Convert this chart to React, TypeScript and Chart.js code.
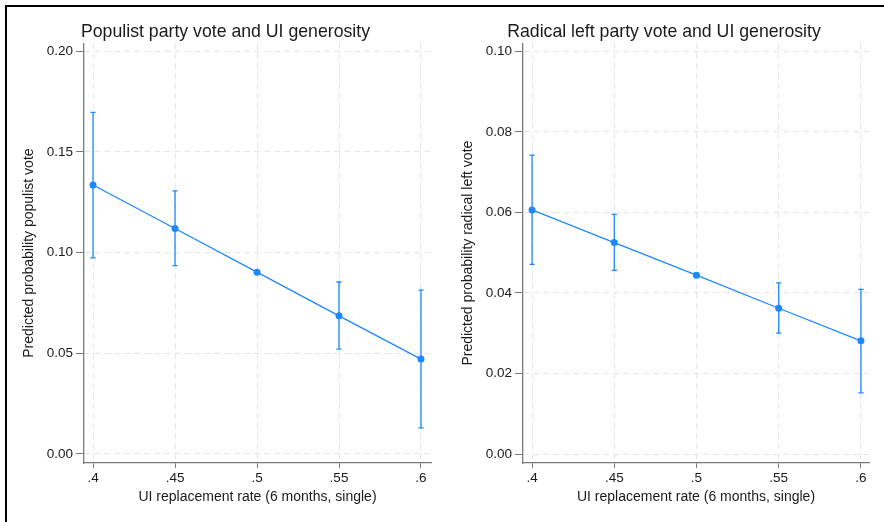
import React, { useEffect, useRef } from 'react';
import { Chart, registerables } from 'chart.js';

Chart.register(...registerables);
Chart.defaults.font.family = '"Liberation Sans", Arial, Helvetica, sans-serif';

// ---- data ----
const xValues = [0.4, 0.45, 0.5, 0.55, 0.6];
const xTicks = [0.4, 0.45, 0.5, 0.55, 0.6];

const populistEst = [0.1336, 0.112, 0.0903, 0.0686, 0.0471];
const populistLo = [0.0974, 0.0935, 0.09, 0.0521, 0.0129];
const populistHi = [0.1697, 0.1307, 0.0906, 0.0854, 0.0814];
const populistYTicks = [0, 0.05, 0.1, 0.15, 0.2];

const radicalEst = [0.0606, 0.0525, 0.0444, 0.0362, 0.0281];
const radicalLo = [0.0471, 0.0456, 0.0442, 0.03, 0.0152];
const radicalHi = [0.0742, 0.0595, 0.0446, 0.0425, 0.0409];
const radicalYTicks = [0, 0.02, 0.04, 0.06, 0.08, 0.1];

const xTitle = 'UI replacement rate (6 months, single)';

// ---- style ----
const BLUE = '#1e88ff';
const GRID = '#e6e6e6';
const AXIS = '#7a7a7a';
const TEXT = '#1a1a1a';

type PanelProps = {
  left: number;
  width: number;
  padLeft: number;
  padRight: number;
  title: string;
  yTitle: string;
  est: number[];
  lo: number[];
  hi: number[];
  yTicks: number[];
  yMin: number;
  yMax: number;
  xMin: number;
  xMax: number;
};

function Panel(p: PanelProps) {
  const ref = useRef<HTMLCanvasElement | null>(null);
  useEffect(() => {
    if (!ref.current) return;
    const ciData: any[] = [];
    xValues.forEach((x, i) => {
      ciData.push({ x, y: p.lo[i] });
      ciData.push({ x, y: p.hi[i] });
      ciData.push({ x, y: null });
    });
    const chart = new Chart(ref.current, {
      type: 'line',
      data: {
        datasets: [
          {
            data: p.est.map((y, i) => ({ x: xValues[i], y })),
            borderColor: BLUE,
            backgroundColor: BLUE,
            borderWidth: 1.3,
            pointRadius: 3.5,
            pointBorderWidth: 0,
            pointBackgroundColor: BLUE,
            order: 0,
          },
          {
            data: ciData,
            borderColor: BLUE,
            borderWidth: 1.3,
            pointStyle: 'line',
            pointRadius: 2.6,
            pointBorderWidth: 1.3,
            pointBorderColor: BLUE,
            spanGaps: false,
            order: 1,
          },
        ],
      },
      options: {
        responsive: false,
        animation: false,
        events: [],
        layout: { padding: { left: p.padLeft, right: p.padRight, top: 0, bottom: 0 } },
        plugins: {
          legend: { display: false },
          tooltip: { enabled: false },
          title: {
            display: true,
            text: p.title,
            color: TEXT,
            font: { size: 17.7, weight: 'normal' },
            padding: { top: 21, bottom: 1 },
          },
        },
        scales: {
          x: {
            type: 'linear',
            min: p.xMin,
            max: p.xMax,
            afterBuildTicks: (s: any) => {
              s.ticks = xTicks.map((v) => ({ value: v }));
            },
            afterFit: (s: any) => {
              s.height = 59;
            },
            grid: { color: GRID, lineWidth: 1, tickColor: AXIS, tickLength: 5, tickWidth: 1 },
            border: { color: AXIS, width: 1.3, dash: [6, 4] },
            ticks: {
              autoSkip: false,
              maxRotation: 0,
              padding: 2,
              color: TEXT,
              font: { size: 13.5 },
              callback: (v: any) => Number(v).toFixed(2).replace(/0$/, '').replace(/^0/, ''),
            },
            title: {
              display: true,
              text: xTitle,
              color: TEXT,
              font: { size: 14 },
              padding: { top: 0, bottom: 16 },
            },
          },
          y: {
            type: 'linear',
            min: p.yMin,
            max: p.yMax,
            afterBuildTicks: (s: any) => {
              s.ticks = p.yTicks.map((v) => ({ value: v }));
            },
            afterFit: (s: any) => {
              s.width = 64;
            },
            grid: { color: GRID, lineWidth: 1, tickColor: AXIS, tickLength: 8, tickWidth: 1 },
            border: { color: AXIS, width: 1.3, dash: [6, 4] },
            ticks: {
              autoSkip: false,
              padding: 3,
              color: TEXT,
              font: { size: 13.5 },
              callback: (v: any) => Number(v).toFixed(2),
            },
            title: {
              display: true,
              text: p.yTitle,
              color: TEXT,
              font: { size: 14 },
              padding: { top: 1.1, bottom: 0 },
            },
          },
        },
      } as any,
    });
    return () => chart.destroy();
  }, []);
  return (
    <canvas
      ref={ref}
      width={p.width}
      height={522}
      style={{ position: 'absolute', left: p.left, top: 0, width: p.width, height: 522 }}
    />
  );
}

export default function App() {
  return (
    <div style={{ position: 'absolute', left: 0, top: 0, width: 884, height: 522, background: '#fff', overflow: 'hidden' }}>
      <Panel
        left={0}
        width={442}
        padLeft={20}
        padRight={11}
        title="Populist party vote and UI generosity"
        yTitle="Predicted probability populist vote"
        est={populistEst}
        lo={populistLo}
        hi={populistHi}
        yTicks={populistYTicks}
        yMin={-0.0045}
        yMax={0.204}
        xMin={0.3945}
        xMax={0.6061}
      />
      <Panel
        left={440}
        width={444}
        padLeft={19}
        padRight={15}
        title="Radical left party vote and UI generosity"
        yTitle="Predicted probability radical left vote"
        est={radicalEst}
        lo={radicalLo}
        hi={radicalHi}
        yTicks={radicalYTicks}
        yMin={-0.00223}
        yMax={0.102}
        xMin={0.3945}
        xMax={0.6049}
      />
      <div
        style={{
          position: 'absolute',
          left: 5,
          top: 5,
          width: 879,
          height: 517,
          boxSizing: 'border-box',
          borderTop: '2px solid #000',
          borderLeft: '2px solid #000',
          pointerEvents: 'none',
        }}
      />
    </div>
  );
}
